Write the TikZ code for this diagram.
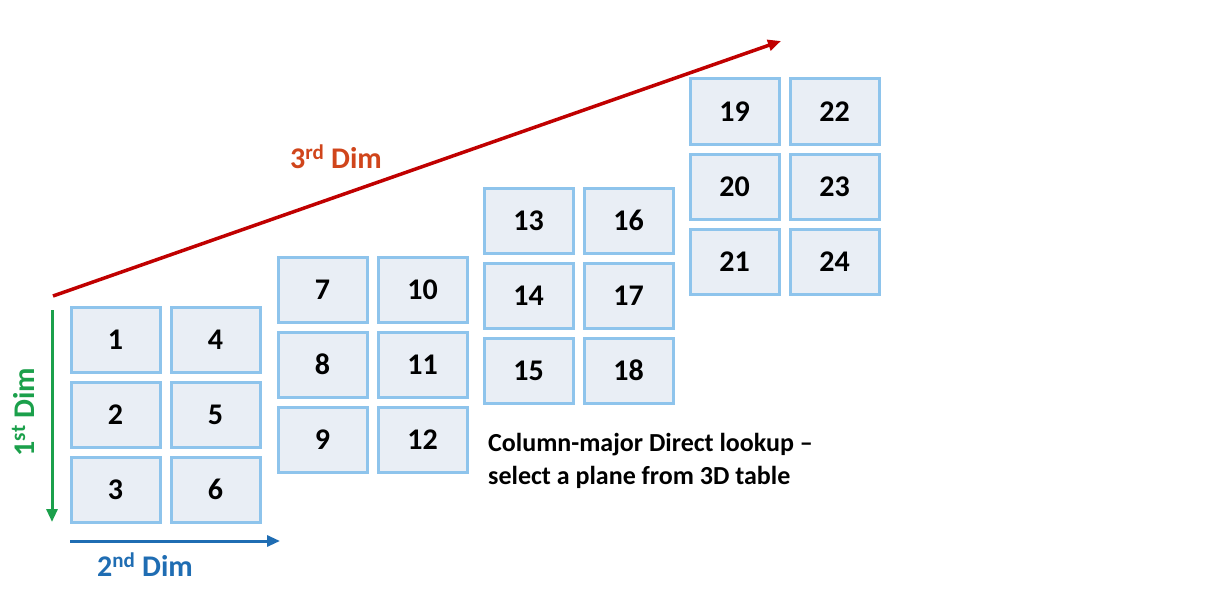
\documentclass[tikz,border=0pt]{standalone}
\usepackage{fontspec}
\setmainfont{Carlito}
\usetikzlibrary{arrows.meta}
\definecolor{boxfill}{HTML}{E9EEF5}
\definecolor{boxline}{HTML}{8EC4EC}
\definecolor{dimred}{HTML}{C00000}
\definecolor{dimorange}{HTML}{D0451B}
\definecolor{dimgreen}{HTML}{1BA04B}
\definecolor{dimblue}{HTML}{1F6DB3}
\tikzset{
  cell/.style={draw=boxline, fill=boxfill, line width=3pt, minimum width=89pt, minimum height=65pt, inner sep=0pt, font=\fontsize{30}{33}\selectfont\bfseries},
  dimarrow/.style={line width=3pt, -{Triangle[length=13pt,width=11pt]}},
  dimlabel/.style={font=\fontsize{30}{33}\selectfont\bfseries, inner sep=0pt},
}
\begin{document}
\begin{tikzpicture}[x=1pt,y=-1pt]
\useasboundingbox[fill=white] (0,0) rectangle (1227,602);
% planes
\foreach \p/\ox/\oy in {0/70/306, 1/277/256, 2/483/187, 3/689/78}{
  \foreach \c in {0,1}{
    \foreach \r in {0,1,2}{
      \pgfmathtruncatemacro{\n}{6*\p+3*\c+\r+1}
      \node[cell] (b\n) at ({\ox+45.5+100*\c},{\oy+33.5+75*\r}) {\n};
    }
  }
}
% axes
\coordinate (g1) at (52,310);
\coordinate (g2) at (52,522);
\draw[dimarrow, dimgreen] (g1) -- (g2);
\node[dimlabel, dimgreen, rotate=90] (l1) at (23,412) {1\textsuperscript{st} Dim};
\coordinate (u1) at (70,541);
\coordinate (u2) at (280,541);
\draw[dimarrow, dimblue] (u1) -- (u2);
\node[dimlabel, dimblue] (l2) at (145,565) {2\textsuperscript{nd} Dim};
\coordinate (r1) at (53,296);
\coordinate (r2) at (781,41);
\draw[dimarrow, dimred, line width=3.5pt] (r1) -- (r2);
\node[dimlabel, dimorange] (l3) at (336,157) {3\textsuperscript{rd} Dim};
\node[font=\fontsize{26}{33}\selectfont\bfseries, align=left, anchor=north west, inner sep=0pt] (cap) at (488,433) {Column-major Direct lookup --\\select a plane from 3D table};
\end{tikzpicture}
\end{document}
